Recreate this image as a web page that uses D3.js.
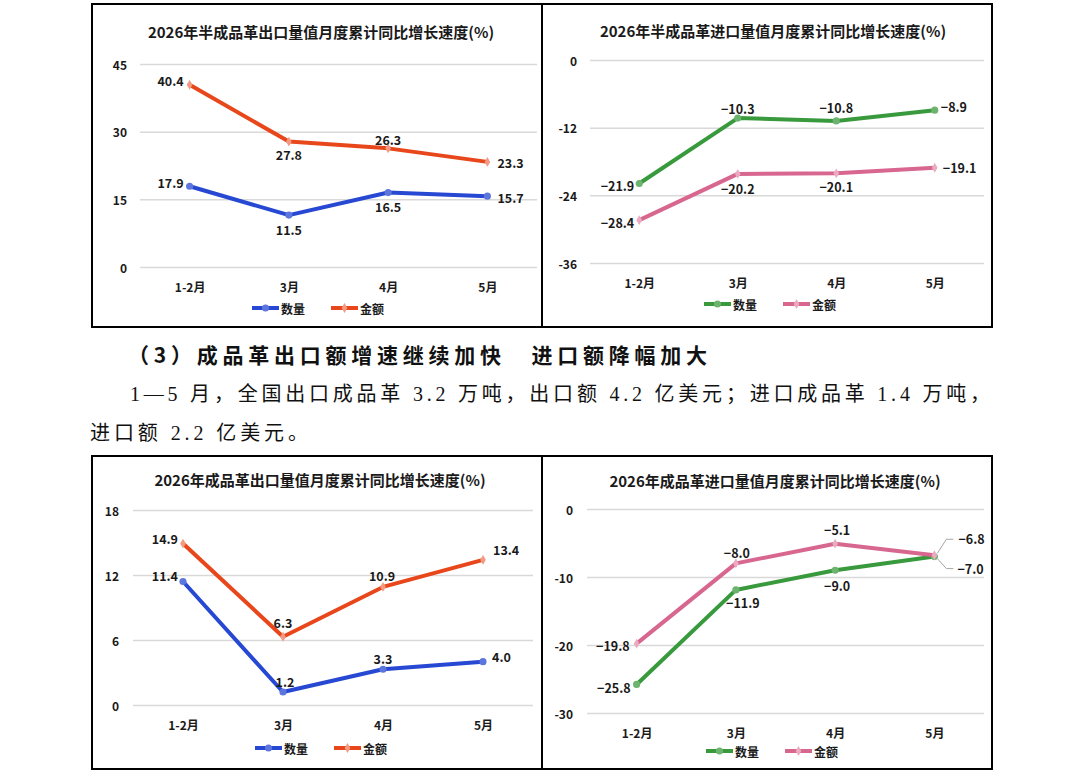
<!DOCTYPE html>
<html><head><meta charset="utf-8">
<script src="https://cdn.jsdelivr.net/npm/d3@7"></script>
<style>body{margin:0;background:#fff;} svg{display:block;}</style>
</head><body>
<svg id="c" width="1084" height="774"></svg>
<script>
// ---- data ----
const categories = ["1-2月", "3月", "4月", "5月"];
const seriesNames = ["数量", "金额"];
const semiExportQty = [17.9, 11.5, 16.5, 15.7];
const semiExportVal = [40.4, 27.8, 26.3, 23.3];
const semiImportQty = [-21.9, -10.3, -10.8, -8.9];
const semiImportVal = [-28.4, -20.2, -20.1, -19.1];
const finExportQty = [11.4, 1.2, 3.3, 4.0];
const finExportVal = [14.9, 6.3, 10.9, 13.4];
const finImportQty = [-25.8, -11.9, -9.0, -7.0];
const finImportVal = [-19.8, -8.0, -5.1, -6.8];
const ticksSemiExport = [0, 15, 30, 45];
const ticksSemiImport = [-36, -24, -12, 0];
const ticksFinExport = [0, 6, 12, 18];
const ticksFinImport = [-30, -20, -10, 0];
const titles = [
  "2026年半成品革出口量值月度累计同比增长速度(%)",
  "2026年半成品革进口量值月度累计同比增长速度(%)",
  "2026年成品革出口量值月度累计同比增长速度(%)",
  "2026年成品革进口量值月度累计同比增长速度(%)"
];
const headingText = "（3）成品革出口额增速继续加快　进口额降幅加大";
const bodyLine1 = "1—5 月，全国出口成品革 3.2 万吨，出口额 4.2 亿美元；进口成品革 1.4 万吨，";
const bodyLine2 = "进口额 2.2 亿美元。";

// ---- styles / layout ----
const BLUE = "#2748d2", ORANGE = "#e8471c", GREEN = "#399a3d", PINK = "#d8678f";
const CJK = "'Noto Sans CJK SC', sans-serif";
const L = (dx, dy, a, leader) => ({dx, dy, a, leader});

const panels = [
  {title: titles[0], qty: semiExportQty, val: semiExportVal, ticks: ticksSemiExport, colors: [BLUE, ORANGE],
   box: [92, 4, 542, 327], xr: [140, 537], yr: [267, 64], tx: 321, ty: 31, tickX: 127, catY: 286, legY: 308, legX: 252,
   qLab: [L(-6,-4,"end"), L(0,14,"middle"), L(0,14,"middle"), L(10,1,"start")],
   vLab: [L(-6,-4,"end"), L(0,13,"middle"), L(0,-9,"middle"), L(10,1,"start")]},
  {title: titles[1], qty: semiImportQty, val: semiImportVal, ticks: ticksSemiImport, colors: [GREEN, PINK],
   box: [542, 4, 992, 327], xr: [590, 984], yr: [263, 60], tx: 773, ty: 30, tickX: 577, catY: 282, legY: 304, legX: 704,
   qLab: [L(-5,2,"end"), L(0,-10,"middle"), L(0,-13,"middle"), L(6,-4,"start")],
   vLab: [L(-5,2,"end"), L(0,15,"middle"), L(0,13,"middle"), L(8,0,"start")]},
  {title: titles[2], qty: finExportQty, val: finExportVal, ticks: ticksFinExport, colors: [BLUE, ORANGE],
   box: [92, 456, 542, 769], xr: [133, 533], yr: [705, 510], tx: 320, ty: 479, tickX: 119, catY: 724, legY: 748, legX: 255,
   qLab: [L(-5,-6,"end"), L(2,-11,"middle"), L(0,-11,"middle"), L(9,-5,"start")],
   vLab: [L(-5,-5,"end"), L(0,-14,"middle"), L(-1,-11,"middle"), L(10,-10,"start")]},
  {title: titles[3], qty: finImportQty, val: finImportVal, ticks: ticksFinImport, colors: [GREEN, PINK],
   box: [542, 456, 992, 769], xr: [587, 984], yr: [713, 509], tx: 775, ty: 480, tickX: 573, catY: 732, legY: 751, legX: 706,
   qLab: [L(-6,3,"end"), L(7,13,"middle"), L(2,15,"middle"), L(23,12,"start",[[3,2],[12,12],[19,12]])],
   vLab: [L(-7,2,"end"), L(1,-11,"middle"), L(2,-14,"middle"), L(24,-17,"start",[[3,-2],[12,-16],[19,-16]])]}
];

const svg = d3.select("#c");
svg.append("rect").attr("width", 1084).attr("height", 774).attr("fill", "#fff");

function lighter(c) { return d3.interpolateRgb(c, "#fff")(0.25); }

panels.forEach(p => {
  const g = svg.append("g");
  const [x0, y0, x1, y1] = p.box;
  g.append("rect").attr("x", x0).attr("y", y0).attr("width", x1 - x0).attr("height", y1 - y0)
    .attr("fill", "none").attr("stroke", "#000").attr("stroke-width", 2);

  const x = d3.scalePoint().domain(categories).range(p.xr).padding(0.5);
  const y = d3.scaleLinear().domain(d3.extent(p.ticks)).range(p.yr);

  // title
  g.append("text").attr("x", p.tx).attr("y", p.ty).attr("text-anchor", "middle")
    .attr("dominant-baseline", "central").attr("font-family", CJK).attr("font-weight", 700)
    .attr("font-size", 15).attr("fill", "#1a1a1a").text(p.title);

  // grid
  const yAxis = d3.axisLeft(y).tickValues(p.ticks).tickSize(-(p.xr[1] - p.xr[0])).tickFormat("");
  const ga = g.append("g").attr("transform", `translate(${p.xr[0]},0)`).call(yAxis);
  ga.select(".domain").remove();
  ga.selectAll(".tick line").attr("stroke", "#d9d9d9").attr("stroke-width", 1.5);

  // y tick labels
  g.selectAll(".yl").data(p.ticks).enter().append("text")
    .attr("x", p.tickX).attr("y", d => y(d)).attr("text-anchor", "end").attr("dominant-baseline", "central")
    .attr("font-family", CJK).attr("font-weight", 700).attr("font-size", 12).attr("fill", "#1a1a1a")
    .text(d => d);

  // x labels
  const xAxis = d3.axisBottom(x).tickSize(0).tickPadding(0);
  const gx = g.append("g").attr("transform", `translate(0,${p.catY})`).call(xAxis);
  gx.select(".domain").remove();
  gx.selectAll("text").attr("dy", null).attr("dominant-baseline", "central")
    .attr("font-family", CJK).attr("font-weight", 700).attr("font-size", 12).attr("fill", "#1a1a1a");

  const series = [
    {vals: p.qty, color: p.colors[0], marker: "circle", labs: p.qLab},
    {vals: p.val, color: p.colors[1], marker: "diamond", labs: p.vLab}
  ];
  const line = d3.line().x((d, i) => x(categories[i])).y(d => y(d));

  series.forEach(s => {
    g.append("path").datum(s.vals).attr("d", line).attr("fill", "none").attr("stroke", s.color)
      .attr("stroke-width", 4).attr("stroke-linejoin", "round").attr("stroke-linecap", "round");
    const sym = d3.symbol().type(s.marker === "circle" ? d3.symbolCircle : d3.symbolDiamond)
      .size(s.marker === "circle" ? 40 : 28);
    g.selectAll(null).data(s.vals).enter().append("path").attr("d", sym)
      .attr("transform", (d, i) => `translate(${x(categories[i])},${y(d)})`)
      .attr("fill", s.marker === "circle" ? lighter(s.color) : d3.interpolateRgb(s.color, "#fff")(0.45));
    s.vals.forEach((v, i) => {
      const pl = s.labs[i];
      const px = x(categories[i]), py = y(v);
      if (pl.leader) {
        g.append("path").attr("d", d3.line()([[px, py]].concat(pl.leader).map((q, k) => k === 0 ? q : [px + q[0], py + q[1]]).slice(1)))
          .attr("fill", "none").attr("stroke", "#a6a6a6").attr("stroke-width", 1);
      }
      g.append("text").attr("x", px + pl.dx).attr("y", py + pl.dy).attr("text-anchor", pl.a)
        .attr("dominant-baseline", "central").attr("font-family", CJK).attr("font-weight", 700)
        .attr("font-size", 12.5).attr("fill", "#1a1a1a").text(d3.format(".1f")(v));
    });
  });

  // legend
  series.forEach((s, k) => {
    const lx = p.legX + k * 79;
    g.append("line").attr("x1", lx).attr("x2", lx + 27).attr("y1", p.legY).attr("y2", p.legY)
      .attr("stroke", s.color).attr("stroke-width", 4);
    const sym = d3.symbol().type(s.marker === "circle" ? d3.symbolCircle : d3.symbolDiamond)
      .size(s.marker === "circle" ? 40 : 28);
    g.append("path").attr("d", sym).attr("transform", `translate(${lx + 13.5},${p.legY})`)
      .attr("fill", s.marker === "circle" ? lighter(s.color) : d3.interpolateRgb(s.color, "#fff")(0.45));
    g.append("text").attr("x", lx + 29).attr("y", p.legY).attr("dominant-baseline", "central")
      .attr("font-family", CJK).attr("font-weight", 700).attr("font-size", 12).attr("fill", "#1a1a1a")
      .text(seriesNames[k]);
  });
});

// ---- body text ----
const BODY = "'Liberation Serif', 'Noto Sans CJK SC', serif";
svg.append("text").attr("x", 128).attr("y", 354).attr("dominant-baseline", "central")
  .attr("font-family", CJK).attr("font-weight", 700).attr("font-size", 21).attr("fill", "#111")
  .attr("textLength", 579).attr("lengthAdjust", "spacing").text(headingText);
svg.append("text").attr("x", 130).attr("y", 394).attr("dominant-baseline", "central")
  .attr("font-family", BODY).attr("font-size", 20).attr("fill", "#111")
  .attr("textLength", 860).attr("lengthAdjust", "spacing").text(bodyLine1);
svg.append("text").attr("x", 90).attr("y", 433).attr("dominant-baseline", "central")
  .attr("font-family", BODY).attr("font-size", 20).attr("fill", "#111")
  .attr("textLength", 218).attr("lengthAdjust", "spacing").text(bodyLine2);
</script>
</body></html>
